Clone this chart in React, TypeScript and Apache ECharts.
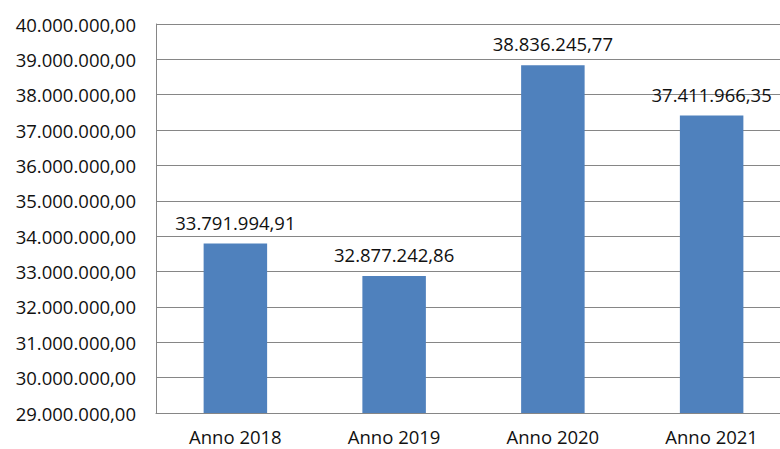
import React, { useEffect, useRef } from "react";
import * as echarts from "echarts";

const categories = ["Anno 2018", "Anno 2019", "Anno 2020", "Anno 2021"];
const values = [33791994.91, 32877242.86, 38836245.77, 37411966.35];
const yMin = 29000000;
const yMax = 40000000;
const yInterval = 1000000;

function fmt(v: number): string {
  const fixed = v.toFixed(2);
  const [intPart, dec] = fixed.split(".");
  const withDots = intPart.replace(/\B(?=(\d{3})+(?!\d))/g, ".");
  return withDots + "," + dec;
}

export default function App() {
  const ref = useRef<HTMLDivElement>(null);
  useEffect(() => {
    if (!ref.current) return;
    const chart = echarts.init(ref.current, undefined, { renderer: "svg" });
    const font = "'Open Sans', sans-serif";
    chart.setOption({
      animation: false,
      grid: { left: 156, top: 24, bottom: 36, right: 0, containLabel: false },
      xAxis: {
        type: "category",
        data: categories,
        axisLine: { show: true, lineStyle: { color: "#868686", width: 1 } },
        axisTick: { show: false },
        axisLabel: { color: "#111", fontSize: 18.5, lineHeight: 16, fontFamily: font, margin: 15 },
      },
      yAxis: {
        type: "value",
        min: yMin,
        max: yMax,
        interval: yInterval,
        axisLine: { show: true, lineStyle: { color: "#868686", width: 1 } },
        axisTick: { show: false },
        splitLine: { show: true, lineStyle: { color: "#868686", width: 1 } },
        axisLabel: {
          color: "#111",
          fontSize: 18.5,
          fontFamily: font,
          margin: 20,
          formatter: (v: number) => fmt(v),
        },
      },
      series: [
        {
          type: "bar",
          data: values,
          barWidth: "40%",
          itemStyle: { color: "#4F81BD" },
          label: {
            show: true,
            position: "top",
            distance: 12,
            color: "#111",
            fontSize: 18.5,
            fontFamily: font,
            formatter: (p: any) => fmt(p.value),
          },
        },
      ],
    });
    return () => chart.dispose();
  }, []);
  return (
    <div
      style={{ position: "fixed", left: 0, top: 0, width: 780, height: 449, overflow: "hidden", background: "#fff" }}
    >
      <div ref={ref} style={{ width: 791, height: 449 }} />
    </div>
  );
}
